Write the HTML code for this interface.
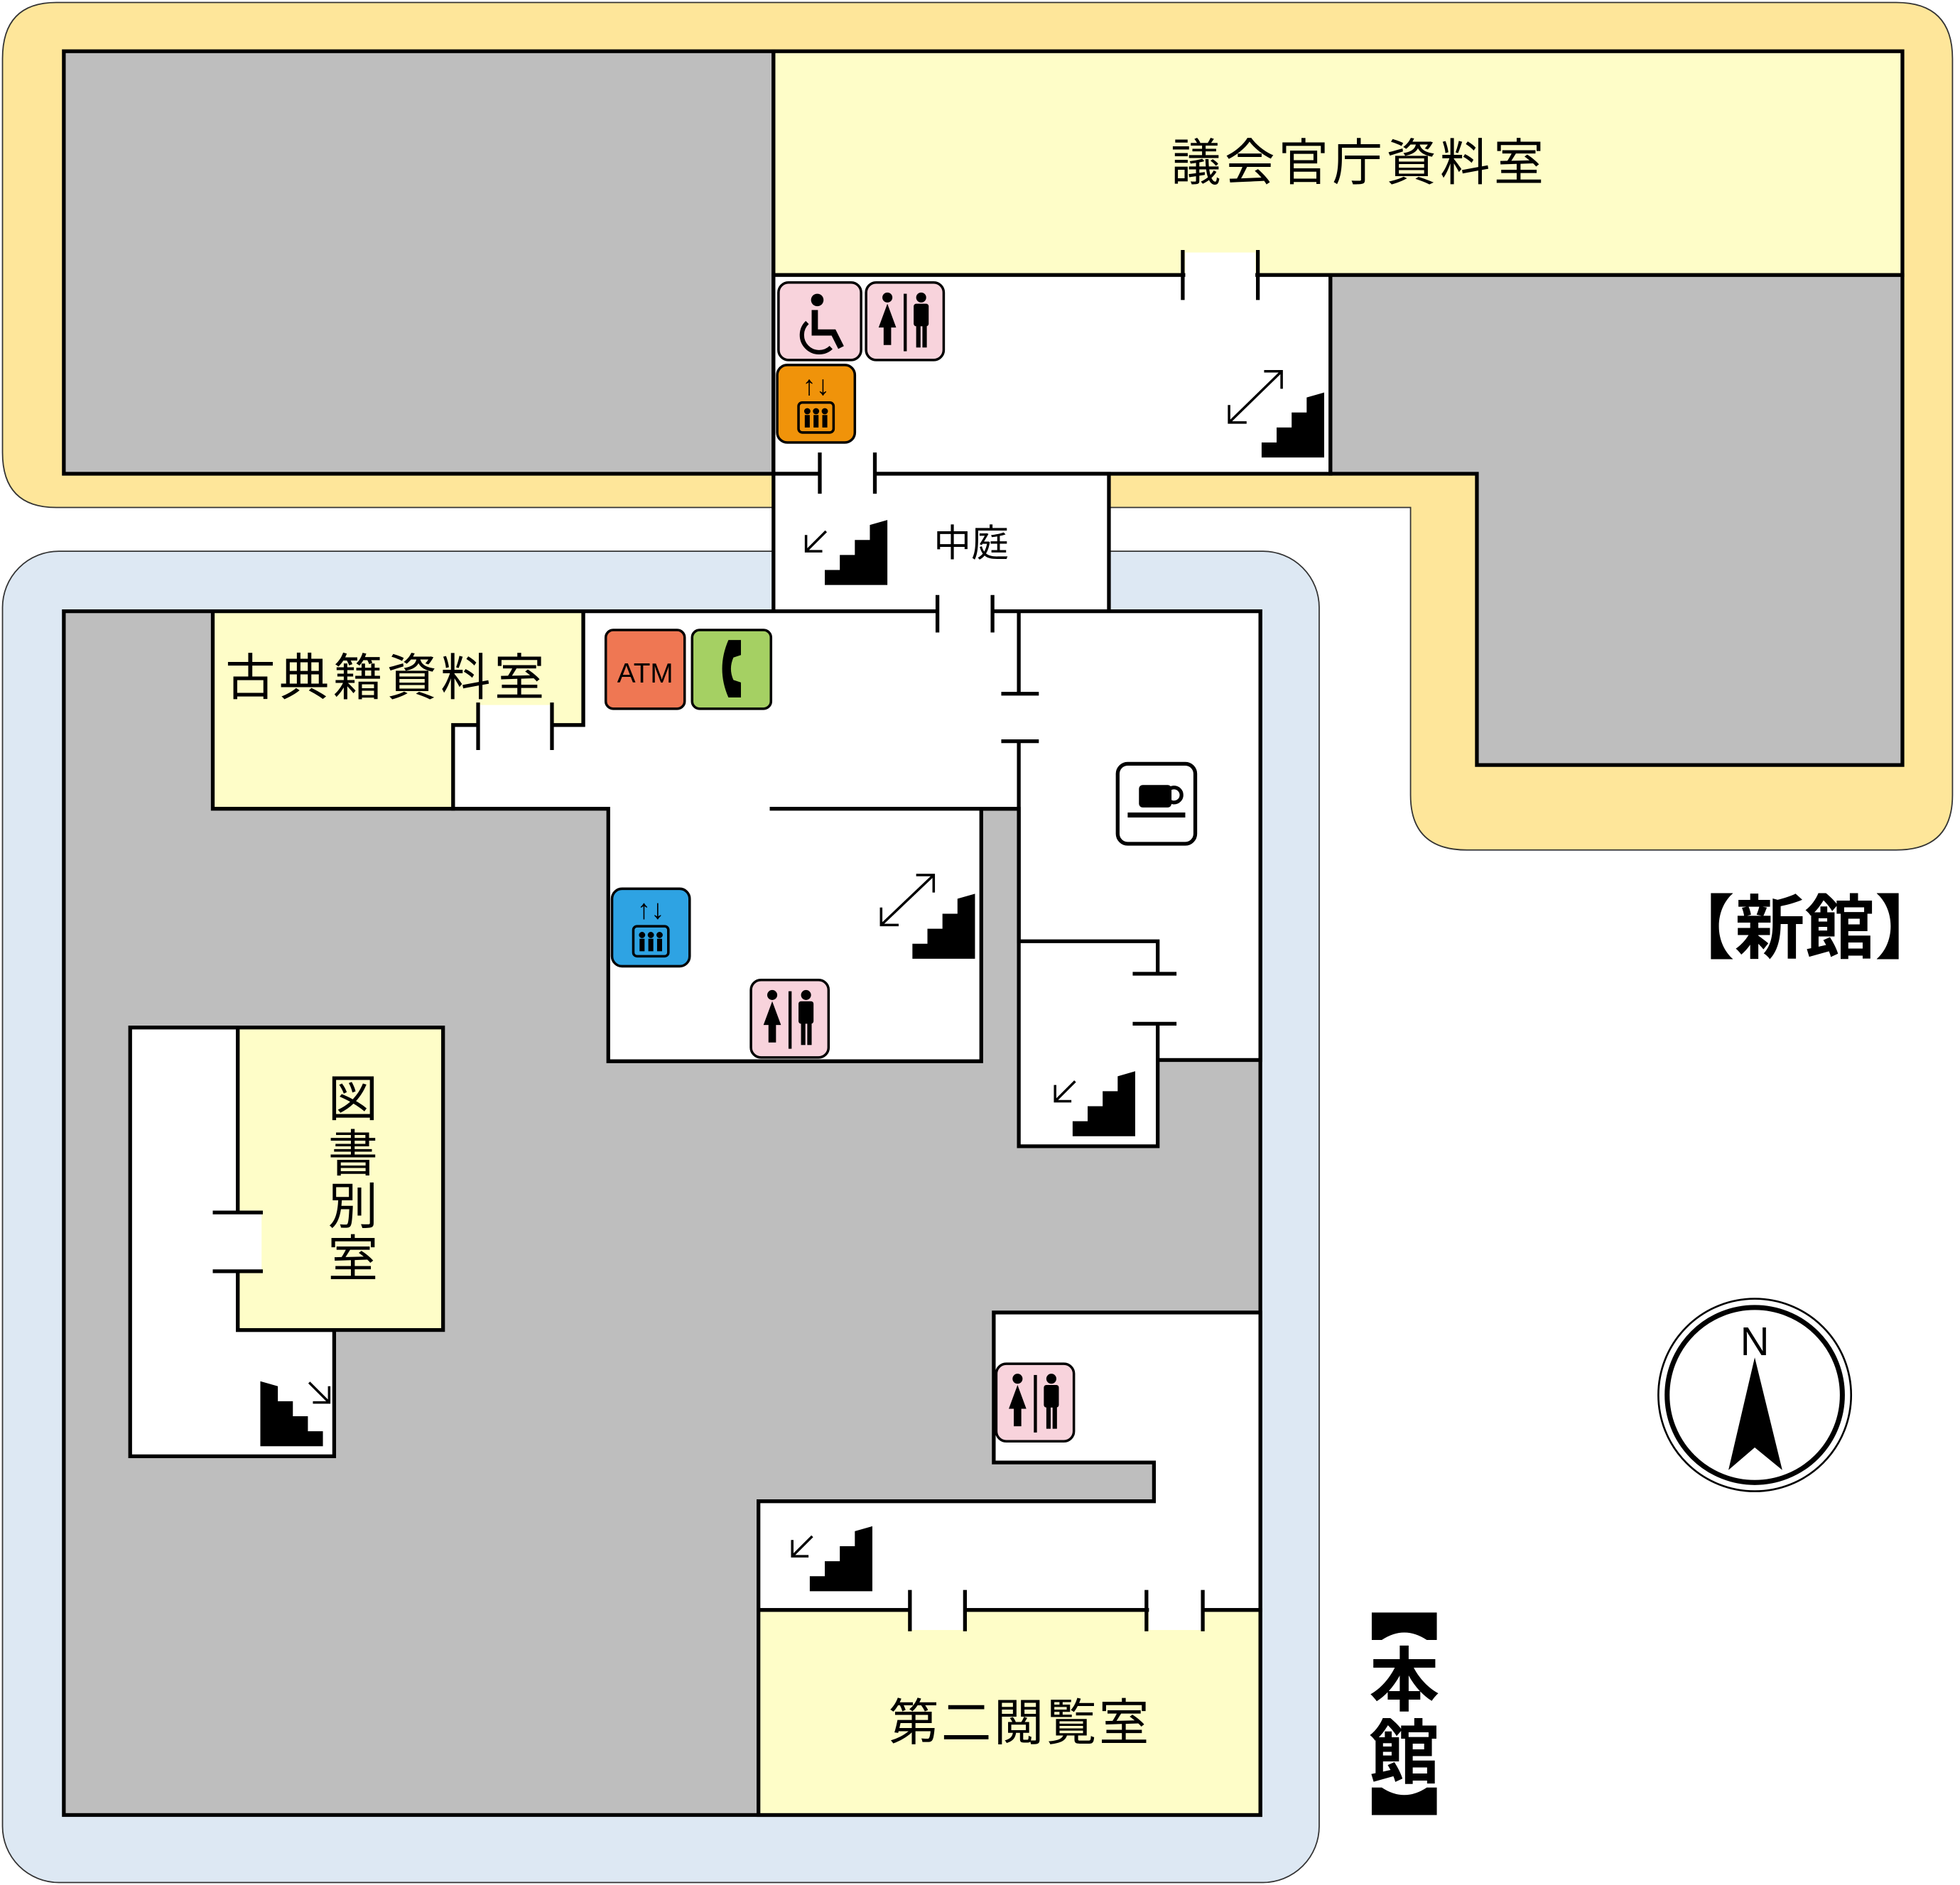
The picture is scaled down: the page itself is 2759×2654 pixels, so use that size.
<!DOCTYPE html>
<html><head><meta charset="utf-8"><style>html,body{margin:0;padding:0;background:#fff}svg{display:block}text{font-family:"Liberation Sans","Noto Sans CJK JP",sans-serif}</style></head><body>
<svg width="2759" height="2654" viewBox="0 0 1566 1508" preserveAspectRatio="none" xmlns="http://www.w3.org/2000/svg">
<defs>
<g id="st"><polygon points="0,52 0,40 12,40 12,28 24,28 24,16 36,16 36,4 50,0 50,52" fill="#000"/></g>
<g id="wc"><rect x="0" y="0" width="62" height="62" rx="8" fill="#f8d3dc" stroke="#000" stroke-width="2"/>
<circle cx="17" cy="12" r="4"/><polygon points="17,17 10,36 14,36 14,50 20,50 20,36 24,36"/>
<rect x="30" y="9" width="2.5" height="46"/>
<circle cx="44" cy="12" r="4"/><rect x="38" y="17" width="12" height="18" rx="2"/><rect x="40" y="34" width="3.5" height="18"/><rect x="45" y="34" width="3.5" height="18"/></g>
<g id="ev"><rect x="0" y="0" width="62" height="62" rx="8" stroke="#000" stroke-width="2"/>
<text x="31" y="24" font-size="22" text-anchor="middle" fill="#000">↑↓</text>
<rect x="17" y="30" width="28" height="24" rx="3" fill="none" stroke="#000" stroke-width="2"/>
<g fill="#000"><circle cx="24" cy="37" r="2.5"/><circle cx="31" cy="37" r="2.5"/><circle cx="38" cy="37" r="2.5"/><rect x="22" y="40" width="4" height="10"/><rect x="29" y="40" width="4" height="10"/><rect x="36" y="40" width="4" height="10"/></g></g>
</defs>
<path d="M45,2 H1515 Q1560,2 1560,47 V636 Q1560,680 1515,680 H1172 Q1127,680 1127,636 V406 H45 Q2,406 2,362 V47 Q2,2 45,2 Z" fill="#fee69a" stroke="#333" stroke-width="1"/>
<rect x="2" y="441" width="1052" height="1065" rx="45" fill="#dde8f3" stroke="#333" stroke-width="1"/>
<g stroke="#000" stroke-width="3">
<rect x="51" y="41" width="567" height="338" fill="#bebebe"/>
<rect x="618" y="41" width="902" height="179" fill="#fefdc8"/>
<rect x="618" y="220" width="445" height="159" fill="#fff"/>
<polygon points="1063,220 1520,220 1520,612 1180,612 1180,379 1063,379" fill="#bebebe"/>
<rect x="618" y="379" width="268" height="110" fill="#fff"/>
<rect x="51" y="489" width="956" height="963" fill="#bebebe"/>
<polygon points="466,489 1007,489 1007,848 925,848 925,917 814,917 814,647 784,647 784,849 486,849 486,647 362,647 362,580 466,580" fill="#fff"/>
<polygon points="170,489 466,489 466,580 362,580 362,647 170,647" fill="#fefdc8"/>
<polygon points="104,822 190,822 190,1064 267,1064 267,1165 104,1165" fill="#fff"/>
<rect x="190" y="822" width="164" height="242" fill="#fefdc8"/>
<polygon points="794,1050 1007,1050 1007,1288 606,1288 606,1201 922,1201 922,1170 794,1170" fill="#fff"/>
<rect x="606" y="1288" width="401" height="164" fill="#fefdc8"/>
</g>
<g fill="#fff">
<rect x="947" y="202" width="56" height="22"/><rect x="656" y="376" width="42" height="6"/>
<rect x="750" y="486" width="42" height="6"/><rect x="383" y="564" width="57" height="19"/>
<rect x="187" y="971" width="22" height="45"/><rect x="728" y="1285" width="42" height="19"/><rect x="918" y="1285" width="42" height="19"/>
</g>
<g stroke="#000" stroke-width="3" fill="none">
<path d="M945,200 V240 M1005,200 V240"/>
<path d="M655,362 V395 M699,362 V395"/>
<path d="M749,476 V506 M793,476 V506"/>
<path d="M382,562 V600 M441,562 V600"/>
<path d="M170,970 H210 M170,1017 H210"/>
<path d="M727,1272 V1305 M771,1272 V1305 M916,1272 V1305 M961,1272 V1305"/>
<path d="M814,489 V555 M800,555 H830 M800,593 H830 M814,593 V753 H925 V779 M905,779 H940 M905,819 H940 M925,819 V848"/>
<path d="M615,647 H814"/>
</g>
<use href="#st" x="1008" y="314"/><use href="#st" x="659" y="416"/><use href="#st" x="729" y="715"/>
<use href="#st" x="857" y="857"/><use href="#st" x="647" y="1221"/>
<g transform="translate(258,1157) scale(-1,1)"><use href="#st" x="0" y="-52"/></g>
<g stroke="#000" stroke-width="2" fill="none">
<path d="M982,338 L1024,297 M1010,297 H1024 V311 M982,324 V338 H996"/>
<path d="M704,740 L746,700 M732,700 H746 V714 M704,726 V740 H718"/>
<path d="M660,425 L644,441 M644,428 V441 H657"/>
<path d="M859,865 L843,881 M843,868 V881 H856"/>
<path d="M649,1229 L633,1245 M633,1232 V1245 H646"/>
<path d="M247,1106 L263,1122 M263,1109 V1122 H250"/>
</g>
<rect x="622" y="226" width="66" height="62" rx="8" fill="#f8d3dc" stroke="#000" stroke-width="2"/>
<circle cx="653" cy="240" r="5"/>
<path d="M651,248 V266 H666 L672,278" stroke="#000" stroke-width="5" fill="none"/>
<path d="M645,258 A12,12 0 1 0 664,278" stroke="#000" stroke-width="3.5" fill="none"/>
<use href="#wc" x="692" y="226"/>
<use href="#ev" x="621" y="292" fill="#f0930a"/>
<use href="#ev" x="489" y="711" fill="#2ea3e3"/>
<use href="#wc" x="600" y="784"/>
<use href="#wc" x="796" y="1091"/>
<rect x="484" y="504" width="63" height="63" rx="6" fill="#ef7753" stroke="#000" stroke-width="2"/>
<text x="515.5" y="546" font-size="22" text-anchor="middle">ATM</text>
<rect x="553" y="504" width="63" height="63" rx="6" fill="#a5d063" stroke="#000" stroke-width="2"/>
<path d="M582,512 L592,512 L592,524 L586,526 Q582,535 586,544 L592,546 L592,558 L582,558 Q572,535 582,512 Z" fill="#000"/>
<rect x="893" y="611" width="62" height="64" rx="8" fill="#fff" stroke="#000" stroke-width="3"/>
<rect x="910" y="628" width="26" height="18" rx="3"/><circle cx="938" cy="636" r="6" stroke="#000" stroke-width="3" fill="none"/>
<rect x="901" y="650" width="46" height="4"/>
<g font-size="40" fill="#000">
<text x="1086" y="144" text-anchor="middle" letter-spacing="3">議会官庁資料室</text>
<text x="309" y="556" text-anchor="middle" letter-spacing="3">古典籍資料室</text>
<text x="815" y="1392" text-anchor="middle" letter-spacing="2">第二閲覧室</text>
<text x="282" y="893" text-anchor="middle">図</text><text x="282" y="937" text-anchor="middle">書</text>
<text x="282" y="979" text-anchor="middle">別</text><text x="282" y="1021" text-anchor="middle">室</text>
</g>
<text x="776" y="445" font-size="30" text-anchor="middle">中庭</text>
<text x="1442" y="762" font-size="56" text-anchor="middle" font-weight="bold">【新館】</text>
<g font-size="56" font-weight="bold" text-anchor="middle">
<text x="1122" y="1364">本</text><text x="1122" y="1422">館</text>
</g>
<path d="M1096,1290 H1148 V1312 H1140 Q1122,1300 1104,1312 H1096 Z" fill="#000"/>
<path d="M1096,1452 H1148 V1430 H1140 Q1122,1442 1104,1430 H1096 Z" fill="#000"/>
<circle cx="1402" cy="1116" r="77" fill="#fff" stroke="#000" stroke-width="1.5"/>
<circle cx="1402" cy="1116" r="70" fill="none" stroke="#000" stroke-width="4"/>
<polygon points="1402,1086 1381,1176 1402,1158 1424,1176" fill="#000"/>
<text x="1402" y="1084" font-size="32" text-anchor="middle">N</text>
</svg>
</body></html>
